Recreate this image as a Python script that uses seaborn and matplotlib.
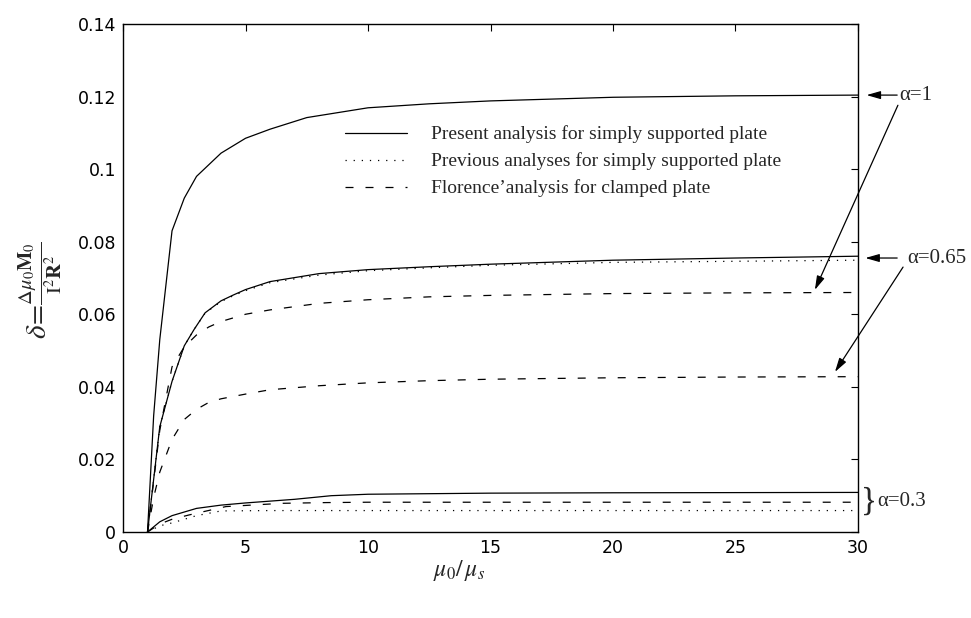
import matplotlib
matplotlib.use("Agg")
import matplotlib.pyplot as plt
from matplotlib.lines import Line2D
import numpy as np
import pandas as pd
import seaborn as sns

# ---------------- data ----------------
x_a1_present = [1, 1.25, 1.5, 2, 2.5, 3, 4, 5, 6, 7.5, 10, 12.5, 15, 20, 25, 30]
y_a1_present = [0, 0.032, 0.053, 0.083, 0.092, 0.098, 0.1044, 0.1085, 0.111, 0.1142,
                0.1169, 0.118, 0.1188, 0.1198, 0.1202, 0.1204]

x_a065_present = [1, 1.5, 2, 2.5, 2.9, 3.35, 4, 4.5, 5, 6, 8, 10, 12.5, 15, 20, 25, 30]
y_a065_present = [0, 0.029, 0.0415, 0.0513, 0.0558, 0.0604, 0.0637, 0.0653, 0.0668, 0.069,
                  0.0712, 0.0723, 0.0731, 0.0738, 0.0749, 0.0755, 0.0760]

x_a065_previous = [1, 1.5, 2, 2.5, 2.9, 3.35, 4, 4.5, 5, 6, 8, 10, 12.5, 15, 20, 25, 30]
y_a065_previous = [0, 0.029, 0.0415, 0.0513, 0.0558, 0.0603, 0.0635, 0.0651, 0.0665, 0.0687,
                   0.0708, 0.0720, 0.0728, 0.0735, 0.0743, 0.0746, 0.0749]

x_a1_florence = [1, 1.5, 2, 2.5, 3, 3.5, 4, 5, 6, 8, 10, 12.5, 15, 20, 25, 30]
y_a1_florence = [0, 0.028, 0.0455, 0.051, 0.0543, 0.0565, 0.058, 0.060, 0.0612, 0.063,
                 0.0640, 0.0648, 0.0652, 0.0657, 0.0659, 0.0660]

x_a065_florence = [1, 1.25, 1.5, 2, 2.5, 3, 3.5, 4, 5, 6, 8, 10, 12.5, 15, 20, 25, 30]
y_a065_florence = [0, 0.0095, 0.0165, 0.0255, 0.031, 0.0338, 0.0357, 0.0367, 0.0380, 0.0392,
                   0.0403, 0.0411, 0.0417, 0.0421, 0.0425, 0.0427, 0.0428]

x_a03_present = [1, 1.5, 2, 3, 4, 5, 7, 8.5, 10, 15, 20, 30]
y_a03_present = [0, 0.0028, 0.0045, 0.0065, 0.0074, 0.008, 0.0090, 0.0100, 0.0104, 0.0107,
                 0.0108, 0.0109]

x_a03_florence = [1, 1.5, 2, 2.7, 4.2, 6.5, 8.3, 10, 15, 20, 30]
y_a03_florence = [0, 0.0022, 0.0035, 0.0047, 0.0070, 0.0079, 0.0081, 0.0082, 0.0082, 0.0082, 0.0082]

x_a03_previous = [1, 1.5, 2, 3, 4, 6, 10, 15, 20, 30]
y_a03_previous = [0, 0.0017, 0.0025, 0.0045, 0.0058, 0.0059, 0.0059, 0.0059, 0.0059, 0.0059]

methods = ["Present analysis for simply supported plate",
           "Previous analyses for simply supported plate",
           "Florence\u2019analysis for clamped plate"]

x_ticks = [0, 5, 10, 15, 20, 25, 30]
y_ticks = [0, 0.02, 0.04, 0.06, 0.08, 0.10, 0.12, 0.14]
y_tick_labels = ["0", "0.02", "0.04", "0.06", "0.08", "0.1", "0.12", "0.14"]

curves = [
    ("a1_present", methods[0], x_a1_present, y_a1_present),
    ("a065_present", methods[0], x_a065_present, y_a065_present),
    ("a03_present", methods[0], x_a03_present, y_a03_present),
    ("a065_previous", methods[1], x_a065_previous, y_a065_previous),
    ("a03_previous", methods[1], x_a03_previous, y_a03_previous),
    ("a1_florence", methods[2], x_a1_florence, y_a1_florence),
    ("a065_florence", methods[2], x_a065_florence, y_a065_florence),
    ("a03_florence", methods[2], x_a03_florence, y_a03_florence),
]
frames = []
for name, meth, xs, ys in curves:
    frames.append(pd.DataFrame({"mu": xs, "delta": ys, "curve": name, "method": meth}))
df = pd.concat(frames, ignore_index=True)

# ---------------- style ----------------
sns.set_theme(style="white")
plt.rcParams["font.family"] = ["DejaVu Sans"]
plt.rcParams["mathtext.fontset"] = "stix"
serif = ["Liberation Serif", "DejaVu Serif"]

fig = plt.figure(figsize=(9.71, 6.18), dpi=100)
ax = fig.add_axes([0.1267, 0.1392, 0.7569, 0.8220])

dash_map = {methods[0]: "", methods[1]: (1, 5.5), methods[2]: (6.4, 9.6)}
sns.lineplot(data=df, x="mu", y="delta", units="curve", style="method", estimator=None,
             sort=False, color="black", dashes=dash_map, style_order=methods,
             linewidth=0.9, legend=False, ax=ax)

ax.set_xlim(0, 30)
ax.set_ylim(0, 0.14)
ax.set_xticks(x_ticks)
ax.set_xticklabels([str(t) for t in x_ticks])
ax.set_yticks(y_ticks)
ax.set_yticklabels(y_tick_labels)
ax.tick_params(direction="in", length=5, width=0.8, top=True, right=True,
               labelsize=12.5, colors="black", pad=5)
for s in ax.spines.values():
    s.set_visible(True)
    s.set_color("black")
    s.set_linewidth(1.0)

ax.set_xlabel(r"$\mu_0/\,\mu_s$", fontsize=17)
ax.xaxis.set_label_coords(0.457, -0.052)
ax.xaxis.label.set_va("top")
ax.set_ylabel(r"$\delta\!=\!\frac{\Delta\mu_0\mathbf{M}_0}{\mathrm{I}^2\mathbf{R}^2}$", fontsize=21)
ax.yaxis.set_label_coords(-0.08, 0.476)

# legend
handles = [Line2D([], [], color="black", lw=0.9),
           Line2D([], [], color="black", lw=0.9, dashes=(1, 5.5)),
           Line2D([], [], color="black", lw=0.9, dashes=(6.4, 9.6))]
ax.legend(handles, methods, loc="upper left", bbox_to_anchor=(0.302, 0.80), frameon=False,
          prop={"family": serif, "size": 14}, handlelength=3.2, handletextpad=1.2,
          labelspacing=0.47, borderpad=0, borderaxespad=0)

# annotations on the right
arrow_kw = dict(arrowstyle="-|>,head_length=0.7,head_width=0.2", color="black", lw=0.9,
                shrinkA=0, shrinkB=0)
ax.annotate("", xy=(30.35, 0.1204), xytext=(31.6, 0.1204), arrowprops=arrow_kw,
            annotation_clip=False)
ax.text(31.7, 0.1204, "\u03b1=1", va="center", ha="left", family=serif, fontsize=15,
        clip_on=False)
ax.annotate("", xy=(28.24, 0.0667), xytext=(31.63, 0.1176), arrowprops=arrow_kw,
            annotation_clip=False)

ax.annotate("", xy=(30.3, 0.0755), xytext=(31.6, 0.0755), arrowprops=arrow_kw,
            annotation_clip=False)
ax.text(32.0, 0.0755, "\u03b1=0.65", va="center", ha="left", family=serif, fontsize=15,
        clip_on=False)
ax.annotate("", xy=(29.06, 0.0441), xytext=(31.84, 0.0730), arrowprops=arrow_kw,
            annotation_clip=False)

ax.text(30.12, 0.0083, "}", va="center", ha="left", family=serif, fontsize=24,
        clip_on=False)
ax.text(30.8, 0.0083, "\u03b1=0.3", va="center", ha="left", family=serif, fontsize=15,
        clip_on=False)

fig.savefig("out.png", dpi=100, facecolor="white")
